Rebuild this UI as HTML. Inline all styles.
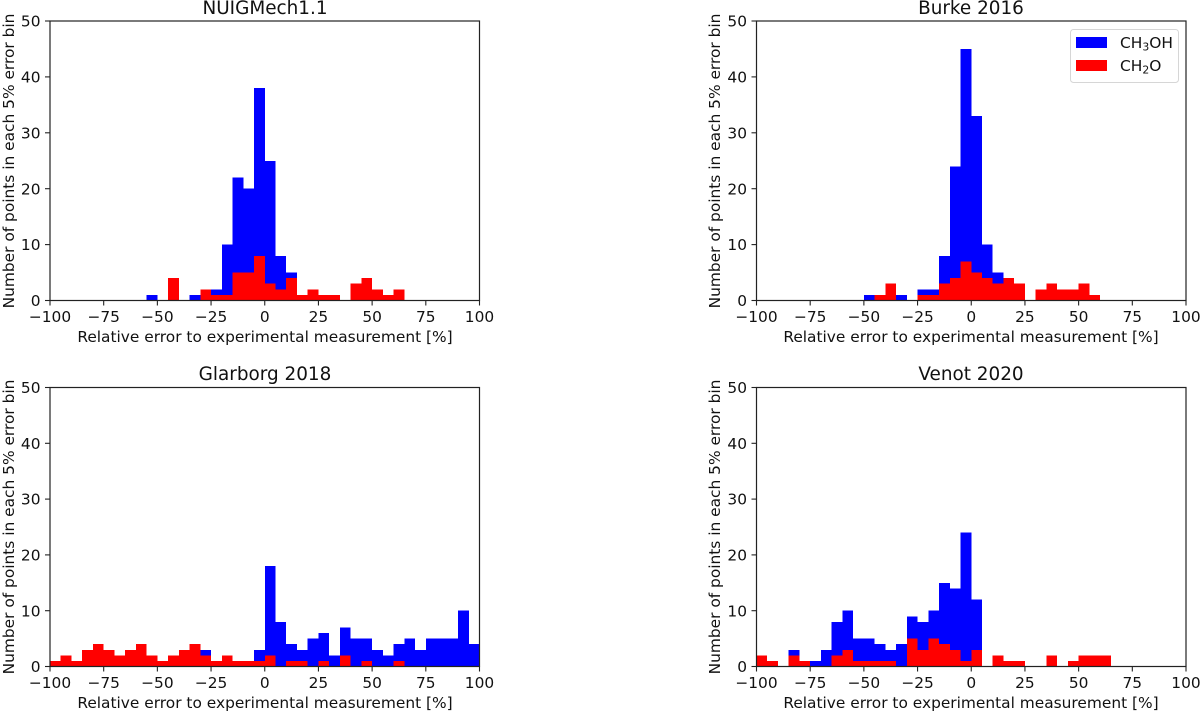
<!DOCTYPE html>
<html lang="en">
<head>
<meta charset="utf-8">
<title>Relative error histograms</title>
<style>
  html, body { margin: 0; padding: 0; background: #fff; }
  #chart { display: block; width: 1200px; height: 712px; font-family: "DejaVu Sans", "Liberation Sans", sans-serif; fill: #111; }
  .spine { fill: none; stroke: #222; stroke-width: 1.2; }
  .tick { stroke: #222; stroke-width: 1.1; }
  .tick-label { font-size: 15.4px; }
  .axis-label { font-size: 15.4px; }
  .panel-title { font-size: 18.4px; }
  .bar { shape-rendering: crispEdges; }
</style>
</head>
<body>
<svg id="chart" xmlns="http://www.w3.org/2000/svg" width="1200" height="712" viewBox="0 0 1200 712">
  <rect width="1200" height="712" fill="#fff"/>

  <g id="panel-nuig">
    <text class="panel-title" x="265" y="14" text-anchor="middle">NUIGMech1.1</text>
    <text class="axis-label" x="265" y="342" text-anchor="middle">Relative error to experimental measurement [%]</text>
    <text class="axis-label" transform="translate(14 161) rotate(-90)" text-anchor="middle">Number of points in each 5% error bin</text>
  </g>
  <g id="panel-burke">
    <text class="panel-title" x="971" y="14" text-anchor="middle">Burke 2016</text>
    <text class="axis-label" x="971" y="342" text-anchor="middle">Relative error to experimental measurement [%]</text>
    <text class="axis-label" transform="translate(720 161) rotate(-90)" text-anchor="middle">Number of points in each 5% error bin</text>
  </g>
  <g id="panel-glarborg">
    <text class="panel-title" x="265" y="380" text-anchor="middle">Glarborg 2018</text>
    <text class="axis-label" x="265" y="708" text-anchor="middle">Relative error to experimental measurement [%]</text>
    <text class="axis-label" transform="translate(14 527) rotate(-90)" text-anchor="middle">Number of points in each 5% error bin</text>
  </g>
  <g id="panel-venot">
    <text class="panel-title" x="971" y="380" text-anchor="middle">Venot 2020</text>
    <text class="axis-label" x="971" y="708" text-anchor="middle">Relative error to experimental measurement [%]</text>
    <text class="axis-label" transform="translate(720 527) rotate(-90)" text-anchor="middle">Number of points in each 5% error bin</text>
  </g>

  <g id="legend">
    <rect x="1070.5" y="29.5" width="108" height="53" rx="3" fill="#fff" stroke="#d6d6d6" stroke-width="1"/>
    <rect x="1076" y="37" width="31" height="11" fill="#0000ff"/>
    <text class="tick-label" x="1120" y="48">CH<tspan font-size="10.8px" dy="2.5">3</tspan><tspan dy="-2.5">OH</tspan></text>
    <rect x="1076" y="60" width="31" height="11" fill="#ff0000"/>
    <text class="tick-label" x="1120" y="71">CH<tspan font-size="10.8px" dy="2.5">2</tspan><tspan dy="-2.5">O</tspan></text>
  </g>
</svg>

<script>
// Histogram counts per 5% error bin, bins running from -100 to +100.
const binEdgesStart = -100;
const binWidth = 5;
const xTickValues = [-100, -75, -50, -25, 0, 25, 50, 75, 100];
const yTickValues = [0, 10, 20, 30, 40, 50];

const nuigMethanol = [0,0,0,0,0,0,0,0,0,1,0,0,0,1,2,2,10,22,20,38,25,8,5,0,0,0,0,0,0,0,0,0,0,0,0,0,0,0,0,0];
const nuigFormaldehyde = [0,0,0,0,0,0,0,0,0,0,0,4,0,0,2,1,1,5,5,8,3,2,4,1,2,1,1,0,3,4,2,1,2,0,0,0,0,0,0,0];

const burkeMethanol = [0,0,0,0,0,0,0,0,0,0,1,1,3,1,0,2,2,8,24,45,33,10,5,4,3,0,2,3,2,2,3,1,0,0,0,0,0,0,0,0];
const burkeFormaldehyde = [0,0,0,0,0,0,0,0,0,0,0,1,3,0,0,1,1,3,4,7,5,4,3,4,3,0,2,3,2,2,3,1,0,0,0,0,0,0,0,0];

const glarborgMethanol = [1,2,1,3,4,3,2,3,4,2,1,2,3,4,3,1,2,1,1,3,18,8,4,3,5,6,2,7,5,5,3,2,4,5,3,5,5,5,10,4];
const glarborgFormaldehyde = [1,2,1,3,4,3,2,3,4,2,1,2,3,4,2,1,2,1,1,1,2,0,1,1,0,1,0,2,0,1,0,0,1,0,0,0,0,0,0,0];

const venotMethanol = [2,1,0,3,1,1,3,8,10,5,5,4,3,4,9,8,10,15,14,24,12,0,2,1,1,0,0,2,0,1,2,2,2,0,0,0,0,0,0,0];
const venotFormaldehyde = [2,1,0,2,1,0,0,2,3,1,1,1,1,0,5,3,5,4,3,1,3,0,2,1,1,0,0,2,0,1,2,2,2,0,0,0,0,0,0,0];

const SVG_NS = 'http://www.w3.org/2000/svg';

function makeEl(tag, parent, cls) {
  const el = document.createElementNS(SVG_NS, tag);
  if (cls) el.setAttribute('class', cls);
  parent.appendChild(el);
  return el;
}

function drawPanel(panelId, frame, methanol, formaldehyde) {
  const group = document.getElementById(panelId);
  const xScale = function (v) { return frame.left + (v + 100) / 200 * (frame.right - frame.left); };
  const yScale = function (v) { return frame.bottom - v / 50 * (frame.bottom - frame.top); };

  function drawSeries(values, color, seriesName) {
    values.forEach(function (count, i) {
      const start = binEdgesStart + i * binWidth;
      const x0 = xScale(start);
      const x1 = xScale(start + binWidth);
      const bar = makeEl('rect', group, 'bar');
      
      
      bar.setAttribute('x', x0);
      bar.setAttribute('y', yScale(count));
      bar.setAttribute('width', x1 - x0);
      bar.setAttribute('height', yScale(0) - yScale(count));
      bar.setAttribute('fill', color);
    });
  }
  drawSeries(methanol, '#0000ff', 'ch3oh');
  drawSeries(formaldehyde, '#ff0000', 'ch2o');

  const spine = makeEl('rect', group, 'spine');
  
  
  spine.setAttribute('x', frame.left);
  spine.setAttribute('y', frame.top);
  spine.setAttribute('width', frame.right - frame.left);
  spine.setAttribute('height', frame.bottom - frame.top);

  xTickValues.forEach(function (v) {
    const tick = makeEl('line', group, 'tick');
    
    
    tick.setAttribute('x1', xScale(v));
    tick.setAttribute('x2', xScale(v));
    tick.setAttribute('y1', frame.bottom);
    tick.setAttribute('y2', frame.bottom + 5);
    const label = makeEl('text', group, 'tick-label');
    
    
    label.setAttribute('x', xScale(v));
    label.setAttribute('y', frame.bottom + 21.5);
    label.setAttribute('text-anchor', 'middle');
    label.textContent = String(v).replace('-', '\u2212');
  });

  yTickValues.forEach(function (v) {
    const tick = makeEl('line', group, 'tick');
    
    
    tick.setAttribute('x1', frame.left - 5);
    tick.setAttribute('x2', frame.left);
    tick.setAttribute('y1', yScale(v));
    tick.setAttribute('y2', yScale(v));
    const label = makeEl('text', group, 'tick-label');
    
    
    label.setAttribute('x', frame.left - 9.5);
    label.setAttribute('y', yScale(v) + 5.6);
    label.setAttribute('text-anchor', 'end');
    label.textContent = String(v);
  });
}

drawPanel('panel-nuig', { left: 50, right: 479.5, top: 21, bottom: 300.5 }, nuigMethanol, nuigFormaldehyde);
drawPanel('panel-burke', { left: 756.5, right: 1186, top: 21, bottom: 300.5 }, burkeMethanol, burkeFormaldehyde);
drawPanel('panel-glarborg', { left: 50, right: 479.5, top: 387.5, bottom: 666.5 }, glarborgMethanol, glarborgFormaldehyde);
drawPanel('panel-venot', { left: 756.5, right: 1186, top: 387.5, bottom: 666.5 }, venotMethanol, venotFormaldehyde);

// Keep the legend above the drawn axes.
document.getElementById('chart').appendChild(document.getElementById('legend'));
</script>
</body>
</html>
